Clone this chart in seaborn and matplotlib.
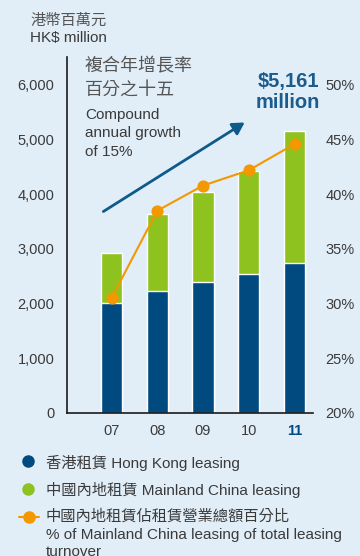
import matplotlib
matplotlib.use("Agg")
import matplotlib.pyplot as plt
import seaborn as sns
import pandas as pd
from matplotlib.lines import Line2D

# Leasing turnover, HK$ million
years = ["07", "08", "09", "10", "11"]
hong_kong = [2005, 2236, 2400, 2545, 2745]
mainland = [922, 1400, 1636, 1873, 2416]
# Mainland China share of total leasing turnover, %
mainland_share = [30.5, 38.5, 40.8, 42.2, 44.6]

left_ticks = [0, 1000, 2000, 3000, 4000, 5000, 6000]
right_ticks = [20, 25, 30, 35, 40, 45, 50]

sns.set_theme(style="white")
plt.rcParams["font.family"] = ["Liberation Sans", "Noto Sans CJK TC"]

BG = "#E1EEF8"
NAVY = "#004A80"
GREEN = "#8DC21F"
ORANGE = "#F39800"
TEXT = "#3A3A3A"
GREY = "#555555"
TITLE_BLUE = "#1B5C8F"

W, H = 360, 556


def fx(x):
    return x / W


def fy(y):
    return 1 - y / H


fig = plt.figure(figsize=(W / 100, H / 100), dpi=100, facecolor=BG)
ax = fig.add_axes([fx(67), fy(413), 246 / W, 356 / H])
ax.set_facecolor(BG)

df = pd.DataFrame({"year": years, "hk": hong_kong, "mainland": mainland})
df["total"] = df["hk"] + df["mainland"]

# Stacked bars: total (green) underneath, Hong Kong (navy) on top of it
sns.barplot(data=df, x="year", y="total", color=GREEN, width=0.46,
            saturation=1, errorbar=None, ax=ax)
sns.barplot(data=df, x="year", y="hk", color=NAVY, width=0.46,
            saturation=1, errorbar=None, ax=ax)

ax.set_xlim(-0.973, 4.404)
ax.set_ylim(0, 6512)
ax.set_yticks(left_ticks)
ax.set_yticklabels([f"{v:,}" for v in left_ticks])
ax.set_xlabel("")
ax.set_ylabel("")
for s in ["top", "right"]:
    ax.spines[s].set_visible(False)
for s in ["left", "bottom"]:
    ax.spines[s].set_color("#1a1a1a")
    ax.spines[s].set_linewidth(1.2)
ax.tick_params(axis="y", length=0, pad=9, labelsize=10.5, labelcolor=TEXT)
ax.tick_params(axis="x", length=0, pad=8, labelsize=10.5, labelcolor=TEXT)
last = ax.get_xticklabels()[-1]
last.set_fontweight("bold")
last.set_color(NAVY)

# Share line on the secondary axis
ax2 = ax.twinx()
sns.lineplot(x=list(range(len(years))), y=mainland_share, ax=ax2,
             color=ORANGE, lw=1.5, marker="o", markersize=8,
             markeredgecolor=ORANGE, markerfacecolor=ORANGE)
ax2.set_ylim(20, 52.56)
ax2.set_yticks(right_ticks)
ax2.set_yticklabels([f"{v}%" for v in right_ticks])
ax2.set_ylabel("")
for s in ax2.spines.values():
    s.set_visible(False)
ax2.tick_params(axis="y", length=0, pad=9, labelsize=10.5, labelcolor=TEXT)
ax.set_xlim(-0.973, 4.404)

# Unit header
fig.text(fx(30), fy(21), "港幣百萬元", fontsize=11, color=GREY, va="center", ha="left")
fig.text(fx(30), fy(38), "HK$ million", fontsize=11, color=TEXT, va="center", ha="left")

# Growth note with arrow
fig.text(fx(85), fy(67), "複合年增長率", fontsize=13, color=GREY, va="center", ha="left")
fig.text(fx(85), fy(90), "百分之十五", fontsize=13, color=GREY, va="center", ha="left")
fig.text(fx(85), fy(115), "Compound", fontsize=11, color=TEXT, va="center", ha="left")
fig.text(fx(85), fy(133), "annual growth", fontsize=11, color=TEXT, va="center", ha="left")
fig.text(fx(85), fy(152), "of 15%", fontsize=11, color=TEXT, va="center", ha="left")
fig.add_artist(matplotlib.patches.FancyArrowPatch(
    (fx(101), fy(213)), (fx(247), fy(121)), transform=fig.transFigure,
    arrowstyle="-|>,head_length=7,head_width=4", color="#0E5A8A", lw=2))

fig.text(fx(288), fy(82), "$5,161", fontsize=14.5, fontweight="bold",
         color=TITLE_BLUE, va="center", ha="center")
fig.text(fx(288), fy(103), "million", fontsize=14.5, fontweight="bold",
         color=TITLE_BLUE, va="center", ha="center")

# Legend
fig.add_artist(Line2D([fx(28)], [fy(461)], transform=fig.transFigure,
                      marker="o", ms=8, color=NAVY, lw=0))
fig.text(fx(46), fy(463), "香港租賃 Hong Kong leasing", fontsize=11,
         color=TEXT, va="center", ha="left")
fig.add_artist(Line2D([fx(28)], [fy(489)], transform=fig.transFigure,
                      marker="o", ms=8, color=GREEN, lw=0))
fig.text(fx(46), fy(490), "中國內地租賃 Mainland China leasing", fontsize=11,
         color=TEXT, va="center", ha="left")
fig.add_artist(Line2D([fx(19), fx(39)], [fy(517), fy(517)], transform=fig.transFigure,
                      color=ORANGE, lw=1.5))
fig.add_artist(Line2D([fx(29)], [fy(517)], transform=fig.transFigure,
                      marker="o", ms=8, color=ORANGE, lw=0))
fig.text(fx(46), fy(517), "中國內地租賃佔租賃營業總額百分比", fontsize=11,
         color=TEXT, va="center", ha="left")
fig.text(fx(46), fy(535), "% of Mainland China leasing of total leasing", fontsize=11,
         color=TEXT, va="center", ha="left")
fig.text(fx(46), fy(552), "turnover", fontsize=11,
         color=TEXT, va="center", ha="left")

fig.savefig("out.png", dpi=100, facecolor=BG)
